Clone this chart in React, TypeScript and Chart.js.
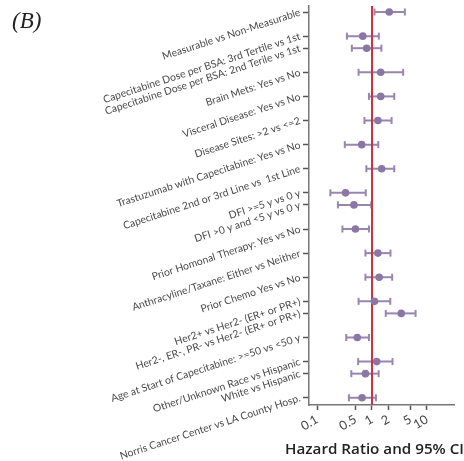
import React, { useEffect, useRef } from "react";
import { Chart, registerables } from "chart.js";

Chart.register(...registerables);

// Rows, top to bottom
const categories = [
  "Measurable vs Non-Measurable",
  "Capecitabine Dose per BSA: 3rd Tertile vs 1st",
  "Capecitabine Dose per BSA: 2nd Terile vs 1st",
  "Brain Mets: Yes vs No",
  "Visceral Disease: Yes vs No",
  "Disease Sites: >2 vs <=2",
  "Trastuzumab with Capecitabine: Yes vs No",
  "Capecitabine 2nd or 3rd Line vs  1st Line",
  "DFI >=5 y vs 0 y",
  "DFI >0 y and <5 y vs 0 y",
  "Prior Homonal Therapy: Yes vs No",
  "Anthracyline/Taxane: Either vs Neither",
  "Prior Chemo Yes vs No",
  "Her2+ vs Her2- (ER+ or PR+)",
  "Her2-, ER-, PR- vs Her2- (ER+ or PR+)",
  "Age at Start of Capecitabine: >=50 vs <50 y",
  "Other/Unknown Race vs Hispanic",
  "White vs Hispanic",
  "Norris Cancer Center vs LA County Hosp.",
];

// Vertical position of each row (grouped rows sit closer together)
const rowPositions = [16, 15, 14.5, 13.5, 12.5, 11.5, 10.5, 9.5, 8.5, 8, 7, 6, 5, 4, 3.5, 2.5, 1.5, 1, 0];

const hazardRatio = [2.06, 0.68, 0.8, 1.44, 1.44, 1.28, 0.65, 1.5, 0.33, 0.47, 0.5, 1.28, 1.35, 1.11, 3.4, 0.54, 1.22, 0.76, 0.66];
const ciLower = [1.11, 0.35, 0.43, 0.57, 0.88, 0.73, 0.32, 0.79, 0.175, 0.24, 0.29, 0.76, 0.76, 0.57, 1.78, 0.34, 0.56, 0.42, 0.38];
const ciUpper = [3.96, 1.33, 1.48, 3.69, 2.54, 2.27, 1.3, 2.54, 0.77, 0.97, 0.88, 2.17, 2.33, 2.15, 6.2, 0.88, 2.36, 1.32, 1.18];

const xTicks = [0.1, 0.5, 1, 2, 5, 10];
const referenceValue = 1;
const xTitle = "Hazard Ratio and 95% CI";

const X_MIN = 0.0715;
const X_MAX = 31;
const Y_MIN = -0.3;
const Y_MAX = 16.25;

const BAR_COLOR = "#9886b1";
const POINT_COLOR = "#8a77a6";
const RED = "#cf3142";
const AXIS_COLOR = "#777";
const TICK_FONT = "Lato";

// Draws the x-axis title at full width (Chart.js squeezes it to the chart-area width)
const xTitlePlugin = {
  id: "xTitleFull",
  afterDraw(chart: any) {
    const { ctx, chartArea } = chart;
    ctx.save();
    ctx.font = "600 15.2px 'Open Sans'";
    ctx.fillStyle = "#222";
    ctx.textAlign = "center";
    ctx.textBaseline = "middle";
    const cx = (chartArea.left + chartArea.right) / 2 - 7;
    ctx.fillText(xTitle, cx, chart.height - 11);
    ctx.restore();
  },
};

export default function App() {
  const canvasRef = useRef<HTMLCanvasElement>(null);

  useEffect(() => {
    const canvas = canvasRef.current;
    if (!canvas) return;

    const errorSets = categories.map((c, i) => ({
      type: "line" as const,
      label: c,
      data: [
        { x: ciLower[i], y: rowPositions[i] },
        { x: ciUpper[i], y: rowPositions[i] },
      ],
      showLine: true,
      borderColor: BAR_COLOR,
      borderWidth: 2,
      pointStyle: "line" as const,
      pointRotation: 90,
      pointRadius: 3.5,
      pointBorderWidth: 2,
      pointBorderColor: BAR_COLOR,
      pointBackgroundColor: BAR_COLOR,
      clip: false as const,
      order: 3,
    }));

    const chart = new Chart(canvas, {
      type: "scatter",
      data: {
        datasets: [
          {
            type: "line",
            label: "ref",
            data: [
              { x: referenceValue, y: Y_MIN },
              { x: referenceValue, y: Y_MAX },
            ],
            showLine: true,
            borderColor: RED,
            borderWidth: 2,
            pointRadius: 0,
            clip: false,
            order: 2,
          } as any,
          {
            type: "scatter",
            label: "HR",
            data: hazardRatio.map((v, i) => ({ x: v, y: rowPositions[i] })),
            pointRadius: 3.8,
            pointBackgroundColor: POINT_COLOR,
            pointBorderColor: POINT_COLOR,
            pointBorderWidth: 0,
            clip: false,
            order: 1,
          } as any,
          ...(errorSets as any[]),
        ],
      },
      plugins: [xTitlePlugin],
      options: {
        animation: false,
        responsive: false,
        maintainAspectRatio: false,
        layout: { padding: { left: 0, right: 10, top: 0, bottom: 0 } },
        plugins: {
          legend: { display: false },
          tooltip: { enabled: false },
          title: { display: false },
        },
        scales: {
          x: {
            type: "logarithmic",
            min: X_MIN,
            max: X_MAX,
            afterBuildTicks: (s: any) => {
              s.ticks = xTicks.map((v) => ({ value: v }));
            },
            afterFit: (s: any) => {
              s.height = 56;
              s.paddingLeft = 0;
              s.paddingRight = 0;
            },
            ticks: {
              autoSkip: false,
              minRotation: 30,
              maxRotation: 30,
              padding: 2,
              color: "#444",
              font: { family: TICK_FONT, size: 12.5 },
              callback: (v: any) => String(v),
            },
            grid: {
              display: true,
              drawOnChartArea: false,
              drawTicks: true,
              tickLength: 5,
              tickWidth: 1.5,
              color: "#555",
            },
            border: { display: true, color: AXIS_COLOR, width: 1.5 },
            title: { display: false },
          },
          y: {
            type: "linear",
            min: Y_MIN,
            max: Y_MAX,
            afterBuildTicks: (s: any) => {
              s.ticks = rowPositions.map((v) => ({ value: v }));
            },
            afterFit: (s: any) => {
              s.width = 309;
              s.paddingTop = 0;
              s.paddingBottom = 0;
            },
            ticks: {
              autoSkip: false,
              minRotation: 18,
              maxRotation: 18,
              padding: 3,
              color: "#4a4a4a",
              font: { family: TICK_FONT, size: 10.4 },
              callback: (v: any) => {
                const idx = rowPositions.indexOf(Number(v));
                return idx >= 0 ? categories[idx] : "";
              },
            },
            grid: {
              display: true,
              drawOnChartArea: false,
              drawTicks: true,
              tickLength: 6,
              tickWidth: 1.5,
              color: "#555",
            },
            border: { display: true, color: AXIS_COLOR, width: 1.5 },
          },
        },
      } as any,
    });

    return () => chart.destroy();
  }, []);

  return (
    <div style={{ position: "fixed", left: 0, top: 0, width: 464, height: 461, background: "#fff" }}>
      <canvas ref={canvasRef} width={464} height={461} style={{ display: "block" }} />
      <span
        style={{
          position: "absolute",
          left: 12,
          top: 7,
          fontFamily: "'Liberation Serif', serif",
          fontStyle: "italic",
          fontSize: 23,
          lineHeight: "28px",
          color: "#222",
        }}
      >
        (B)
      </span>
    </div>
  );
}
